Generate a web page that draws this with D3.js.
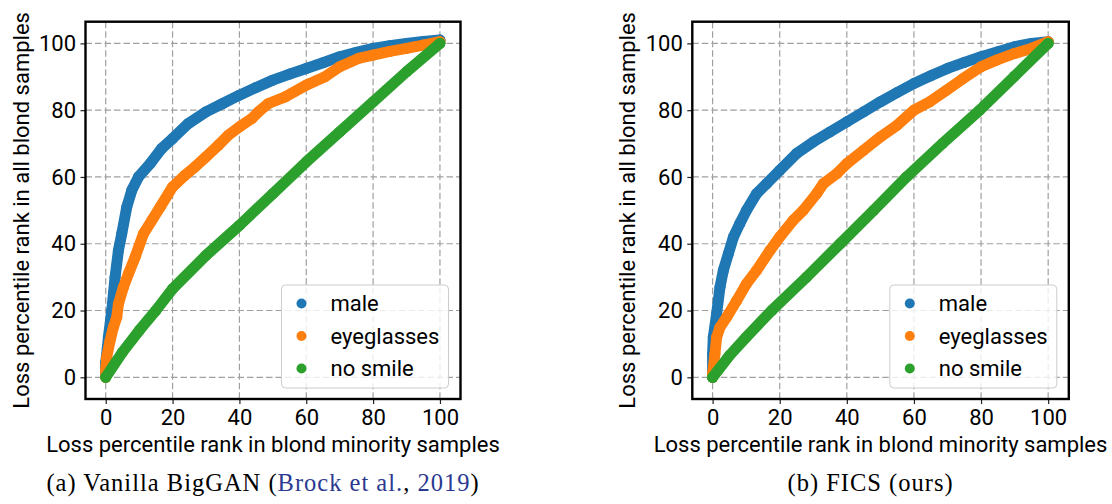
<!DOCTYPE html>
<html>
<head>
<meta charset="utf-8">
<script src="https://d3js.org/d3.v7.min.js"></script>
<style>
  body { margin: 0; background: #fff; }
  svg text { font-family: Roboto, "DejaVu Sans", sans-serif; fill: #000; }
</style>
</head>
<body>
<div id="chart"></div>
<script>
const xTicks = [0, 20, 40, 60, 80, 100];
const yTicks = [0, 20, 40, 60, 80, 100];
const seriesNames = ['male', 'eyeglasses', 'no smile'];
const seriesColors = ['#1f77b4', '#ff7f0e', '#2ca02c'];

// (a) Vanilla BigGAN, points as [x, y]
const vanillaMale = [[0, 1], [0, 4.5], [0.5, 9], [0.8, 12], [1.8, 20], [2.8, 30], [3.8, 38], [4.8, 43], [6.3, 51],
  [7.8, 56], [9.8, 60], [13.3, 64], [16.7, 68.5], [20, 71.5], [24.7, 76], [30, 79.5], [35, 82], [40, 84.5],
  [45, 86.8], [50, 89], [55, 90.8], [60, 92.5], [65, 94.2], [70, 96], [75, 97.3], [80, 98.5], [85, 99.3],
  [90, 100], [95, 100.6], [100, 101]];
const vanillaEyeglasses = [[0, 0], [0, 2], [0.3, 6], [1.3, 11], [2.3, 15], [3.3, 18], [3.8, 22], [5.3, 27],
  [6.8, 31], [8.8, 36], [11.3, 43], [13.8, 47], [16.3, 51], [20, 57], [23.7, 60.5], [26.7, 63], [30, 66],
  [33.7, 69.5], [36.7, 72.5], [40, 75], [43.7, 77.5], [45.7, 79.5], [48.7, 82], [53.7, 84], [60, 87.5],
  [65.6, 90], [70, 93], [75.6, 95.5], [80, 96.5], [85, 97.6], [90, 98.5], [95, 99.5], [100, 100.5]];
const vanillaNoSmile = [[0, 0], [5, 7.5], [10, 14], [15, 20], [20, 26.5], [30, 36.5], [40, 45.5], [50, 55],
  [60, 64.5], [70, 73.5], [80, 82.5], [90, 91.5], [100, 100]];

// (b) FICS (ours)
const ficsMale = [[0, 0], [0, 1], [0, 7], [0.2, 12], [1.2, 19], [2.2, 27], [3.2, 32], [4.7, 37], [6.2, 42],
  [8.1, 46], [10.1, 50], [13.1, 55], [16.1, 58], [20, 62], [25, 67], [30, 70.5], [35, 73.5], [40, 76.5],
  [45, 79.5], [50, 82.5], [55, 85.3], [60, 88], [65, 90.3], [70, 92.5], [75, 94.3], [80, 96], [85, 97.5],
  [90, 99], [95, 100], [100, 100.5]];
const ficsEyeglasses = [[0, 0], [0, 1], [0.7, 7], [1.2, 12], [2.2, 15], [4.2, 18], [7.2, 23], [10.1, 28],
  [13.1, 32], [17.1, 38], [20, 42], [24, 47], [27, 50], [31, 55], [33, 58], [37, 61], [40, 64], [45, 68],
  [50, 72], [55, 75.5], [60, 80], [64.7, 82.5], [69.7, 86], [74.7, 89.5], [80, 93], [84.6, 95], [90, 97],
  [95, 98.5], [100, 100.5]];
const ficsNoSmile = [[0, 0], [5, 6.5], [10, 12], [17.6, 20], [28, 30], [38, 40], [48, 50], [57.8, 60],
  [68.5, 70], [79.6, 80], [90, 90.2], [100, 100]];

const xLabel = 'Loss percentile rank in blond minority samples';
const yLabel = 'Loss percentile rank in all blond samples';
const citeBlue = '#2b3990';

const panels = [
  {
    left: 85.5, right: 460.5,
    series: [vanillaMale, vanillaEyeglasses, vanillaNoSmile],
    caption: [['(a) Vanilla BigGAN (', '#000'], ['Brock et al.', citeBlue], [', ', '#000'], ['2019', citeBlue], [')', '#000']]
  },
  {
    left: 692.3, right: 1068.8,
    series: [ficsMale, ficsEyeglasses, ficsNoSmile],
    caption: [['(b) FICS (ours)', '#000']]
  }
];

const width = 1112, height = 504;
const plotTop = 21.7, plotBottom = 399;
const fontSize = 22;

const svg = d3.select('#chart')
  .append('svg')
  .attr('width', width)
  .attr('height', height);

panels.forEach(drawPanel);

function drawPanel(p) {
  const x = d3.scaleLinear().domain([-6.05, 106.15]).range([p.left, p.right]);
  const y = d3.scaleLinear().domain([-6.5, 106.5]).range([plotBottom, plotTop]);
  const g = svg.append('g');

  // dashed grid
  const grid = g.append('g');
  grid.selectAll('line.gx')
    .data(xTicks).enter().append('line')
    .attr('x1', d => x(d)).attr('x2', d => x(d))
    .attr('y1', plotTop).attr('y2', plotBottom);
  grid.selectAll('line.gy')
    .data(yTicks).enter().append('line')
    .attr('x1', p.left).attr('x2', p.right)
    .attr('y1', d => y(d)).attr('y2', d => y(d));
  grid.selectAll('line')
    .attr('stroke', '#a0a0a0')
    .attr('stroke-width', 1.2)
    .attr('stroke-dasharray', '6.5,3');

  // axes with outward ticks
  const xAxis = g.append('g')
    .attr('transform', `translate(0,${plotBottom})`)
    .call(d3.axisBottom(x).tickValues(xTicks).tickSize(5).tickPadding(5));
  const yAxis = g.append('g')
    .attr('transform', `translate(${p.left},0)`)
    .call(d3.axisLeft(y).tickValues(yTicks).tickSize(5).tickPadding(4.5));
  [xAxis, yAxis].forEach(a => {
    a.select('.domain').remove();
    a.selectAll('.tick line').attr('stroke', '#222').attr('stroke-width', 1.2);
    a.selectAll('.tick text').attr('font-size', fontSize).attr('font-family', 'Roboto');
  });

  // scatter curves, drawn as dense marker trails
  const clip = 'clip' + Math.round(p.left);
  svg.append('clipPath').attr('id', clip)
    .append('rect').attr('x', p.left).attr('y', plotTop)
    .attr('width', p.right - p.left).attr('height', plotBottom - plotTop);

  const line = d3.line().x(d => x(d[0])).y(d => y(d[1]));
  const marks = g.append('g').attr('clip-path', `url(#${clip})`);
  p.series.forEach((s, i) => {
    marks.append('path')
      .datum(s)
      .attr('d', line)
      .attr('fill', 'none')
      .attr('stroke', seriesColors[i])
      .attr('stroke-width', 11)
      .attr('stroke-linecap', 'round')
      .attr('stroke-linejoin', 'round');
    marks.append('g').selectAll('circle')
      .data(s).enter().append('circle')
      .attr('cx', d => x(d[0]))
      .attr('cy', d => y(d[1]))
      .attr('r', 5.5)
      .attr('fill', seriesColors[i]);
  });

  // frame
  g.append('rect')
    .attr('x', p.left).attr('y', plotTop)
    .attr('width', p.right - p.left).attr('height', plotBottom - plotTop)
    .attr('fill', 'none')
    .attr('stroke', '#000')
    .attr('stroke-width', 2.4);

  // legend
  const lw = 167, lh = 103;
  const lx = p.right - 12 - lw, ly = plotBottom - 11 - lh;
  const legend = g.append('g').attr('transform', `translate(${lx},${ly})`);
  legend.append('rect')
    .attr('width', lw).attr('height', lh).attr('rx', 4)
    .attr('fill', '#fff').attr('fill-opacity', 0.8)
    .attr('stroke', '#cccccc').attr('stroke-width', 1);
  seriesNames.forEach((name, i) => {
    const ry = 18.5 + i * 32.5;
    legend.append('circle').attr('cx', 20).attr('cy', ry).attr('r', 5).attr('fill', seriesColors[i]);
    legend.append('text').attr('x', 49).attr('y', ry)
      .attr('dy', '0.35em')
      .attr('font-size', fontSize)
      .text(name);
  });

  // axis titles
  const cx = (p.left + p.right) / 2;
  g.append('text')
    .attr('x', cx).attr('y', 451.5)
    .attr('text-anchor', 'middle')
    .attr('font-size', fontSize)
    .text(xLabel);
  g.append('text')
    .attr('transform', `translate(${p.left - 57},${(plotTop + plotBottom) / 2}) rotate(-90)`)
    .attr('text-anchor', 'middle')
    .attr('font-size', fontSize)
    .text(yLabel);

  // caption under the panel
  const cap = g.append('text')
    .attr('x', cx - 10).attr('y', 491)
    .attr('text-anchor', 'middle')
    .style('font-family', '"Liberation Serif", "DejaVu Serif", serif')
    .style('letter-spacing', '1px')
    .attr('font-size', 24.5);
  p.caption.forEach(([t, c]) => cap.append('tspan').attr('fill', c).style('fill', c).text(t));
}
</script>
</body>
</html>
